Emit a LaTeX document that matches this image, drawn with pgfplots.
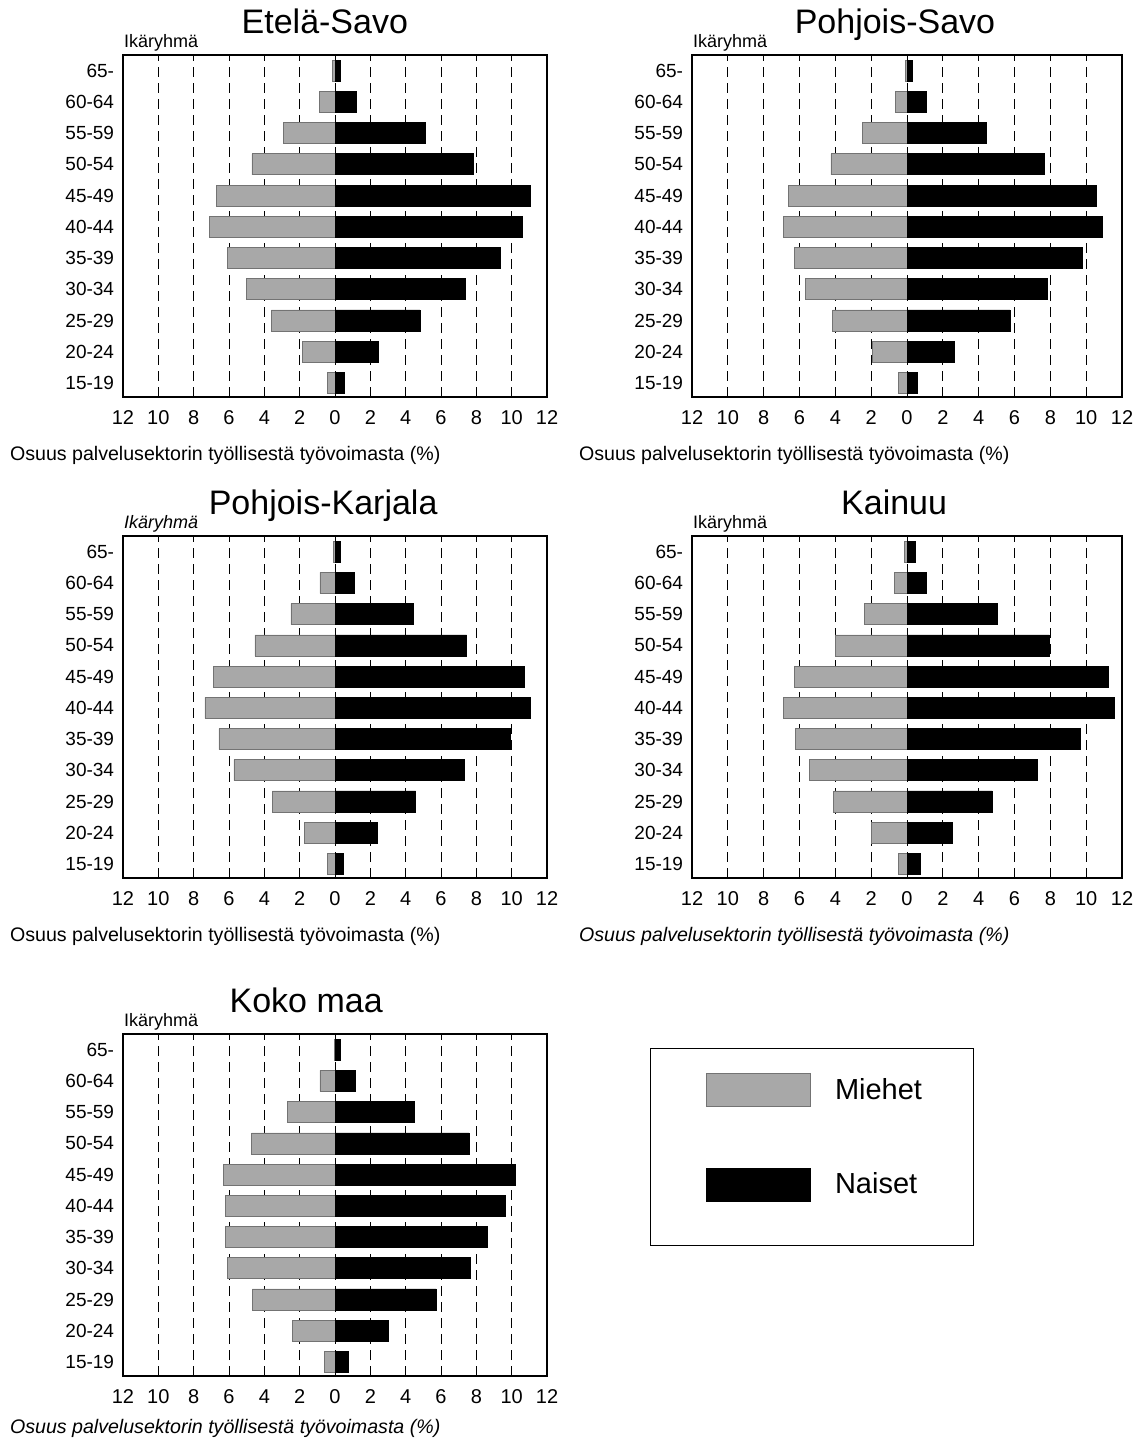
\documentclass[border=0pt]{standalone}
\usepackage{fontspec}
\setmainfont{Liberation Sans}
\usepackage{pgfplots}
\pgfplotsset{compat=1.18}

\definecolor{miehet}{RGB}{168,168,168}

\pgfplotsset{
  pyr/.style={
    xbar, bar width=10.5pt, bar shift=0pt,
    scale only axis, height=171pt,
    xmin=-12, xmax=12, ymin=-0.45, ymax=10.5,
    clip=false,
    xtick={-12,-10,...,12},
    xticklabels={12,10,8,6,4,2,0,2,4,6,8,10,12},
    ytick={0,...,10},
    yticklabels={15-19,20-24,25-29,30-34,35-39,40-44,45-49,50-54,55-59,60-64,65-},
    xmajorgrids,
    major grid style={black, line width=0.5pt, dash pattern=on 5pt off 3pt},
    tick style={draw=none},
    axis line style={black, line width=0.6pt},
    xticklabel style={font=\fontsize{10}{12}\selectfont, text height=7.2pt, text depth=0pt, yshift=-3pt},
    yticklabel style={font=\fontsize{9.5}{11}\selectfont, inner xsep=0pt},
  },
  men/.style={fill=miehet, draw=black!55, line width=0.3pt},
  women/.style={fill=black, draw=black, line width=0.3pt},
}

\newcommand{\ikaryhma}[1]{\node[anchor=base west, font=\fontsize{9}{11}\selectfont, xshift=-3pt, yshift=3.8pt] at (rel axis cs:0,1) {#1};}
\newcommand{\panelxlabel}[2][-32pt]{\node[anchor=base west, font=\fontsize{9.8}{12}\selectfont, xshift=-60pt, yshift=#1] at (rel axis cs:0,0) {#2};}
\newcommand{\paneltitle}[2]{\node[anchor=base, font=\fontsize{17}{20}\selectfont, yshift=10.5pt] at (rel axis cs:#1,1) {#2};}

\begin{document}
\begin{tikzpicture}
\useasboundingbox (0,0) rectangle (572.5pt,719.5pt);

% Etelä-Savo
\begin{axis}[pyr, width=212pt, at={(61.5pt,521pt)}, anchor=south west]
\addplot[men] coordinates {(-0.43,0) (-1.85,1) (-3.6,2) (-5.0,3) (-6.1,4) (-7.13,5) (-6.7,6) (-4.7,7) (-2.94,8) (-0.9,9) (-0.15,10)};
\addplot[women] coordinates {(0.53,0) (2.43,1) (4.8,2) (7.36,3) (9.34,4) (10.6,5) (11.07,6) (7.83,7) (5.1,8) (1.23,9) (0.32,10)};
\ikaryhma{Ikäryhmä}
\paneltitle{0.476}{Etelä-Savo}
\panelxlabel{Osuus palvelusektorin työllisestä työvoimasta (\%)}
\end{axis}

% Pohjois-Savo
\begin{axis}[pyr, width=215pt, at={(346pt,521pt)}, anchor=south west]
\addplot[men] coordinates {(-0.47,0) (-1.92,1) (-4.15,2) (-5.66,3) (-6.3,4) (-6.9,5) (-6.6,6) (-4.25,7) (-2.5,8) (-0.66,9) (-0.1,10)};
\addplot[women] coordinates {(0.58,0) (2.64,1) (5.74,2) (7.85,3) (9.8,4) (10.9,5) (10.57,6) (7.64,7) (4.4,8) (1.1,9) (0.3,10)};
\ikaryhma{Ikäryhmä}
\paneltitle{0.472}{Pohjois-Savo}
\panelxlabel{Osuus palvelusektorin työllisestä työvoimasta (\%)}
\end{axis}

% Pohjois-Karjala
\begin{axis}[pyr, width=212pt, at={(61.5pt,280.5pt)}, anchor=south west]
\addplot[men] coordinates {(-0.43,0) (-1.75,1) (-3.55,2) (-5.72,3) (-6.57,4) (-7.36,5) (-6.9,6) (-4.53,7) (-2.5,8) (-0.85,9) (-0.1,10)};
\addplot[women] coordinates {(0.47,0) (2.4,1) (4.57,2) (7.3,3) (9.94,4) (11.08,5) (10.7,6) (7.45,7) (4.45,8) (1.08,9) (0.32,10)};
\ikaryhma{\itshape Ikäryhmä}
\paneltitle{0.472}{Pohjois-Karjala}
\panelxlabel{Osuus palvelusektorin työllisestä työvoimasta (\%)}
\end{axis}

% Kainuu
\begin{axis}[pyr, width=215pt, at={(346pt,280.5pt)}, anchor=south west]
\addplot[men] coordinates {(-0.47,0) (-2.0,1) (-4.1,2) (-5.47,3) (-6.23,4) (-6.92,5) (-6.28,6) (-4.0,7) (-2.36,8) (-0.7,9) (-0.15,10)};
\addplot[women] coordinates {(0.75,0) (2.53,1) (4.75,2) (7.25,3) (9.68,4) (11.57,5) (11.26,6) (7.94,7) (5.06,8) (1.06,9) (0.45,10)};
\ikaryhma{Ikäryhmä}
\paneltitle{0.47}{Kainuu}
\panelxlabel{\itshape Osuus palvelusektorin työllisestä työvoimasta (\%)}
\end{axis}

% Koko maa
\begin{axis}[pyr, width=212pt, at={(61.5pt,31.5pt)}, anchor=south west,
  legend style={at={(1.375,0.886)}, anchor=north west, draw=none, fill=none,
    font=\fontsize{14.5}{17}\selectfont, inner sep=0pt,
    row sep=30.5pt, /tikz/every odd column/.append style={column sep=10pt}},
  legend cell align=left,
  legend image code/.code={\fill[#1] (0pt,-8.25pt) rectangle (52pt,8.25pt);}]
\addplot[men] coordinates {(-0.6,0) (-2.42,1) (-4.68,2) (-6.08,3) (-6.19,4) (-6.2,5) (-6.32,6) (-4.72,7) (-2.68,8) (-0.85,9) (-0.05,10)};
\addlegendentry{Miehet}
\addplot[women] coordinates {(0.75,0) (3.02,1) (5.72,2) (7.64,3) (8.6,4) (9.66,5) (10.19,6) (7.58,7) (4.5,8) (1.17,9) (0.28,10)};
\addlegendentry{Naiset}
\ikaryhma{Ikäryhmä}
\paneltitle{0.432}{Koko maa}
\panelxlabel[-28.5pt]{\itshape Osuus palvelusektorin työllisestä työvoimasta (\%)}
\draw[black, line width=0.5pt] (rel axis cs:1.243,0.959) rectangle (rel axis cs:2.005,0.383);
\end{axis}
\end{tikzpicture}
\end{document}
